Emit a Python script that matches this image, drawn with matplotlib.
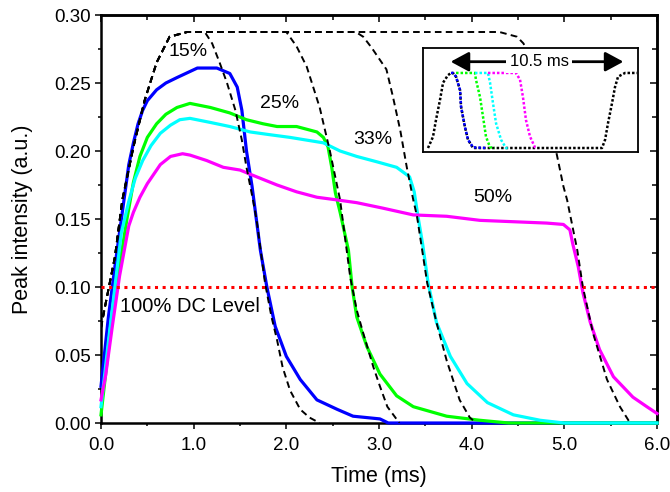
import matplotlib
matplotlib.use('Agg')
import matplotlib.pyplot as plt
from matplotlib.ticker import MultipleLocator, FormatStrFormatter

plt.rcParams['font.family'] = ['Liberation Sans', 'DejaVu Sans']

# --- measured photoluminescence traces (time in ms, intensity in a.u.) ---
blue_t = [0.0, 0.08, 0.15, 0.24, 0.3, 0.35, 0.4, 0.45, 0.5, 0.6, 0.7, 0.82, 1.04, 1.25, 1.39, 1.47, 1.52,
          1.57, 1.63, 1.72, 1.79, 1.88, 2.0, 2.15, 2.33, 2.55, 2.72, 3.01, 3.1, 6.0]
blue_y = [0.027, 0.078, 0.115, 0.16, 0.19, 0.206, 0.22, 0.23, 0.237, 0.245, 0.25, 0.254, 0.261, 0.261, 0.257, 0.247, 0.23,
          0.2, 0.174, 0.127, 0.1, 0.071, 0.049, 0.032, 0.017, 0.01, 0.005, 0.003, 0.0, 0.0]

green_t = [0.0, 0.1, 0.17, 0.28, 0.35, 0.42, 0.5, 0.6, 0.7, 0.82, 0.96, 1.18, 1.39, 1.57, 1.75, 1.9, 2.11,
           2.33, 2.4, 2.45, 2.49, 2.53, 2.58, 2.67, 2.71, 2.76, 2.87, 3.01, 3.19, 3.37, 3.73,
           4.09, 4.4, 6.0]
green_y = [0.006, 0.066, 0.103, 0.15, 0.177, 0.196, 0.21, 0.22, 0.227, 0.232, 0.235, 0.232, 0.228, 0.223, 0.22, 0.218, 0.218,
           0.214, 0.21, 0.203, 0.188, 0.169, 0.155, 0.127, 0.1, 0.078, 0.056, 0.036, 0.02, 0.012, 0.005,
           0.002, 0.0, 0.0]

cyan_t = [0.0, 0.08, 0.15, 0.22, 0.3, 0.37, 0.45, 0.54, 0.64, 0.75, 0.85, 0.96, 1.18, 1.39, 1.61, 1.82, 2.04,
          2.22, 2.4, 2.58, 2.76, 2.98, 3.19, 3.33, 3.38, 3.42, 3.47, 3.53, 3.62, 3.77, 3.95,
          4.17, 4.45, 4.74, 5.0, 6.0]
cyan_y = [0.012, 0.06, 0.1, 0.14, 0.163, 0.18, 0.193, 0.204, 0.213, 0.219, 0.223, 0.224, 0.221, 0.218, 0.214, 0.212, 0.21,
          0.208, 0.206, 0.2, 0.196, 0.192, 0.188, 0.181, 0.17, 0.152, 0.132, 0.103, 0.074, 0.049, 0.029,
          0.015, 0.006, 0.002, 0.0, 0.0]

magenta_t = [0.0, 0.05, 0.12, 0.2, 0.3, 0.35, 0.42, 0.5, 0.64, 0.75, 0.88, 0.96, 1.14, 1.32, 1.5, 1.68,
             1.9, 2.11, 2.33, 2.55, 2.76, 3.04, 3.37, 3.73, 4.09, 4.45, 4.81, 4.99, 5.06, 5.09,
             5.15, 5.2, 5.28, 5.38, 5.53, 5.74, 5.89, 6.0]
magenta_y = [0.017, 0.035, 0.07, 0.108, 0.145, 0.155, 0.166, 0.176, 0.19, 0.196, 0.198, 0.197, 0.193, 0.188, 0.186, 0.181,
             0.175, 0.17, 0.166, 0.164, 0.162, 0.158, 0.153, 0.152, 0.149, 0.148, 0.147, 0.146, 0.142, 0.132,
             0.115, 0.096, 0.074, 0.054, 0.034, 0.019, 0.012, 0.007]

# --- drive pulses (dashed), common rise then each its own fall ---
rise_t = [0.0, 0.03, 0.1, 0.15, 0.23, 0.35, 0.47, 0.6, 0.74, 0.93]
rise_y = [0.07, 0.081, 0.105, 0.122, 0.164, 0.203, 0.237, 0.265, 0.284, 0.2875]

fall15_t = [1.12, 1.2, 1.28, 1.36, 1.45, 1.52, 1.57, 1.64, 1.68, 1.77, 1.84, 1.9, 1.96, 2.04, 2.15, 2.25, 2.36]
fall15_y = [0.2875, 0.279, 0.265, 0.25, 0.23, 0.208, 0.188, 0.164, 0.149, 0.103, 0.078, 0.061, 0.041, 0.024, 0.01, 0.004, 0.0]

fall25_t = [2.0, 2.11, 2.22, 2.36, 2.47, 2.58, 2.69, 2.76, 2.83, 2.94, 3.01, 3.09, 3.22]
fall25_y = [0.2875, 0.277, 0.262, 0.232, 0.2, 0.164, 0.107, 0.083, 0.066, 0.041, 0.027, 0.012, 0.0]

fall33_t = [2.75, 2.83, 2.92, 3.01, 3.08, 3.15, 3.23, 3.3, 3.37, 3.41, 3.52, 3.62, 3.73, 3.87, 3.98, 4.05]
fall33_y = [0.2875, 0.284, 0.276, 0.267, 0.26, 0.24, 0.215, 0.188, 0.164, 0.152, 0.103, 0.074, 0.046, 0.017, 0.004, 0.0]

fall50_t = [4.3, 4.49, 4.56, 4.7, 4.82, 4.92, 4.99, 5.03, 5.14, 5.2, 5.31, 5.46, 5.6, 5.71]
fall50_y = [0.2875, 0.284, 0.279, 0.255, 0.225, 0.197, 0.174, 0.164, 0.127, 0.1, 0.066, 0.032, 0.012, 0.0]

dc_level = 0.10

duty_labels = ['15%', '25%', '33%', '50%']
duty_pos = [(0.94, 0.2735), (1.93, 0.2346), (2.93, 0.2085), (4.225, 0.1658)]

# --- inset: schematic pulse trains (ms, normalized) ---
in_black_t = [0.0, 0.31, 0.49, 0.74, 0.93, 1.23, 1.42, 1.54, 1.73, 1.98, 2.04, 2.28, 2.47, 2.78,
              10.74, 10.93, 11.11, 11.36, 11.54, 11.73, 12.16, 12.9]
in_black_y = [0.0, 0.15, 0.37, 0.64, 0.87, 0.97, 1.0, 1.0, 0.95, 0.77, 0.55, 0.28, 0.11, 0.0,
              0.0, 0.11, 0.33, 0.6, 0.81, 0.95, 1.0, 1.0]
in_blue_t = [1.42, 1.54, 1.73, 1.98, 2.04, 2.28, 2.47, 2.78, 3.58]
in_blue_y = [1.0, 1.0, 0.95, 0.77, 0.55, 0.28, 0.11, 0.01, 0.0]
in_green_t = [1.73, 2.9, 2.96, 3.21, 3.4, 3.58, 3.83, 4.1]
in_green_y = [1.0, 1.0, 0.91, 0.68, 0.41, 0.15, 0.01, 0.0]
in_cyan_t = [2.9, 3.7, 3.83, 4.01, 4.2, 4.51, 4.81, 4.95]
in_cyan_y = [1.0, 1.0, 0.87, 0.6, 0.33, 0.11, 0.0, 0.0]
in_magenta_t = [3.7, 5.43, 5.68, 5.86, 6.05, 6.3, 6.6, 6.75]
in_magenta_y = [1.0, 1.0, 0.91, 0.68, 0.37, 0.15, 0.01, 0.0]
period_start, period_end = 1.40, 12.06

fig = plt.figure(figsize=(6.7, 4.92), dpi=100)
ax = fig.add_axes([0.15075, 0.14024, 0.82985, 0.82927])

lw_sig = 2.3
ax.plot(blue_t, blue_y, color='#0000ff', lw=lw_sig, zorder=3, clip_on=False)
ax.plot(green_t, green_y, color='#00ff00', lw=lw_sig, zorder=3, clip_on=False)
ax.plot(cyan_t, cyan_y, color='#00ffff', lw=lw_sig, zorder=3, clip_on=False)
ax.plot(magenta_t, magenta_y, color='#ff00ff', lw=lw_sig, zorder=3, clip_on=False)

for ft, fy in [(fall15_t, fall15_y), (fall25_t, fall25_y), (fall33_t, fall33_y), (fall50_t, fall50_y)]:
    ax.plot(rise_t + ft, rise_y + fy, color='black', lw=1.4, dashes=(3.4, 2.2), zorder=4)

ax.axhline(dc_level, color='#ff0000', lw=2.2, ls=(0, (1, 1.5)), zorder=5)

for lab, (x, y) in zip(duty_labels, duty_pos):
    ax.text(x, y, lab, fontsize=14, ha='center', va='center', zorder=6)
ax.text(0.205, 0.086, '100% DC Level', fontsize=14.5, ha='left', va='center', zorder=6)

ax.set_xlim(0, 6)
ax.set_ylim(0, 0.30)
ax.xaxis.set_major_locator(MultipleLocator(1.0))
ax.xaxis.set_minor_locator(MultipleLocator(0.5))
ax.yaxis.set_major_locator(MultipleLocator(0.05))
ax.yaxis.set_minor_locator(MultipleLocator(0.025))
ax.xaxis.set_major_formatter(FormatStrFormatter('%.1f'))
ax.yaxis.set_major_formatter(FormatStrFormatter('%.2f'))
ax.tick_params(which='both', direction='out', width=1.1, labelsize=13.5, pad=3)
ax.tick_params(axis='x', which='both', pad=5.5)
ax.tick_params(which='major', length=4.5)
ax.tick_params(which='minor', length=2.5)
for s in ax.spines.values():
    s.set_linewidth(1.8)

# inward ticks on top and right
top = ax.secondary_xaxis('top')
top.xaxis.set_major_locator(MultipleLocator(1.0))
top.xaxis.set_minor_locator(MultipleLocator(0.5))
top.tick_params(which='both', direction='in', width=1.1, labeltop=False)
top.tick_params(which='major', length=5)
top.tick_params(which='minor', length=3.5)
top.spines['top'].set_linewidth(1.8)
right = ax.secondary_yaxis('right')
right.yaxis.set_major_locator(MultipleLocator(0.05))
right.yaxis.set_minor_locator(MultipleLocator(0.025))
right.tick_params(which='both', direction='in', width=1.1, labelright=False)
right.tick_params(which='major', length=5)
right.tick_params(which='minor', length=3.5)
right.spines['right'].set_linewidth(1.8)

ax.set_xlabel('Time (ms)', fontsize=15.5, va='center')
ax.set_ylabel('Peak intensity (a.u.)', fontsize=15.5, va='center')
ax.xaxis.set_label_coords(0.5, -0.132)
ax.yaxis.set_label_coords(-0.142, 0.5)

# inset
axi = fig.add_axes([0.6313, 0.6911, 0.3209, 0.2114])
axi.set_facecolor('white')
dot = (0, (1, 0.8))
axi.plot(in_black_t, in_black_y, color='black', lw=1.8, ls=dot)
axi.plot(in_blue_t, in_blue_y, color='#0000ff', lw=1.8, ls=dot)
axi.plot(in_green_t, in_green_y, color='#00ff00', lw=1.8, ls=dot)
axi.plot(in_cyan_t, in_cyan_y, color='#00ffff', lw=1.8, ls=dot)
axi.plot(in_magenta_t, in_magenta_y, color='#ff00ff', lw=1.8, ls=dot)
axi.annotate('', xy=(period_start, 1.15), xytext=(period_end, 1.15),
             arrowprops=dict(arrowstyle='<|-|>,head_length=0.5,head_width=0.27',
                             mutation_scale=22, lw=2, color='black', shrinkA=0, shrinkB=0))
axi.text((period_start + period_end) / 2 + 0.14, 1.15, '10.5 ms', fontsize=12, ha='center', va='center',
         bbox=dict(facecolor='white', edgecolor='none', pad=2.5))
axi.set_xlim(-0.31, 12.96)
axi.set_ylim(-0.053, 1.333)
axi.set_xticks([])
axi.set_yticks([])
for s in axi.spines.values():
    s.set_linewidth(1.3)

fig.savefig('out.png', dpi=100)
